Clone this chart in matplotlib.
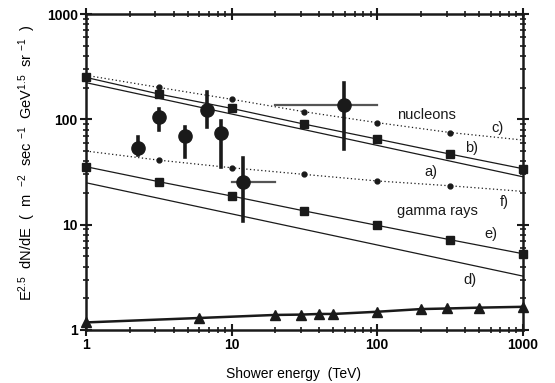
import matplotlib
matplotlib.use("Agg")
import matplotlib.pyplot as plt
import numpy as np

plt.rcParams['font.family'] = ['Liberation Sans', 'DejaVu Sans']
plt.rcParams['mathtext.default'] = 'regular'

# model curves on the common energy grid (TeV)
x_grid = [1, 3.16, 10, 31.6, 100, 316, 1000]
curve_b = [250, 174, 127, 90, 65, 46.8, 34]
curve_c = [262, 201, 155, 118, 93, 75, 63.6]
curve_e = [35.5, 25.6, 18.7, 13.5, 9.85, 7.2, 5.3]
curve_f = [50, 41, 34.7, 30, 26, 23.4, 20.7]
x_ends = [1, 1000]
curve_a = [223, 28.5]
curve_d = [25, 3.25]

# triangles (bottom curve)
tri_x = [1, 6, 20, 30, 40, 50, 100, 200, 300, 500, 1000]
tri_y = [1.18, 1.30, 1.39, 1.40, 1.42, 1.42, 1.49, 1.58, 1.60, 1.63, 1.66]

# measurements
meas_x = [2.27, 3.17, 4.75, 6.73, 8.4, 12, 59]
meas_y = [54, 106, 70, 124, 75, 25.6, 137]
meas_lo = [45.8, 80, 44, 84, 35.5, 10.9, 52]
meas_hi = [68, 125, 84, 183, 97, 42.6, 220]
meas_xlo = [None, None, None, None, None, 10, 20]
meas_xhi = [None, None, None, None, None, 20, 99]

labels = [("nucleons", 218, 110), ("c)", 675, 83), ("b)", 443, 53), ("a)", 233, 31.8),
          ("f)", 751, 16.5), ("gamma rays", 261, 13.5), ("e)", 602, 8.1), ("d)", 432, 3.0)]

fig = plt.figure(figsize=(5.55, 3.83), dpi=100)
ax = fig.add_axes([0.155, 0.1384, 0.787, 0.825])
ax.set_xscale('log')
ax.set_yscale('log')
ax.set_xlim(1, 1000)
ax.set_ylim(1, 1000)

lc = '#1a1a1a'
# solid lines
ax.plot(x_ends, curve_a, color=lc, lw=0.9)
ax.plot(x_ends, curve_d, color=lc, lw=0.9)
ax.plot(x_grid, curve_b, color=lc, lw=0.9, marker='s', ms=5.5, clip_on=False, zorder=4)
ax.plot(x_grid, curve_e, color=lc, lw=0.9, marker='s', ms=5.5, clip_on=False, zorder=4)
# dotted
ax.plot(x_grid, curve_c, color=lc, lw=0.9, ls=(0, (1, 2)))
ax.plot(x_grid[1:-1], curve_c[1:-1], color=lc, ls='none', marker='o', ms=3.5)
ax.plot(x_grid, curve_f, color=lc, lw=0.9, ls=(0, (1, 2)))
ax.plot(x_grid[1:-1], curve_f[1:-1], color=lc, ls='none', marker='o', ms=3.5)
# triangles
ax.plot(tri_x, tri_y, color=lc, lw=1.8, marker='^', ms=6.5, clip_on=False, zorder=4)

# measurements
for i in range(len(meas_x)):
    if meas_xlo[i] is not None:
        ax.plot([meas_xlo[i], meas_xhi[i]], [meas_y[i], meas_y[i]], color='#555555', lw=1.6, zorder=5)
    ax.plot([meas_x[i], meas_x[i]], [meas_lo[i], meas_hi[i]], color=lc, lw=2.6, zorder=6)
ax.plot(meas_x, meas_y, ls='none', marker='o', ms=9.5, color=lc, zorder=7)

for t, x, y in labels:
    ax.text(x, y, t, fontsize=10.5, ha='center', va='center', color=lc)

for s in ax.spines.values():
    s.set_linewidth(1.8)
    s.set_color(lc)

ax.set_xticks([1, 10, 100, 1000])
ax.set_xticklabels(['1', '10', '100', '1000'], fontweight='bold', fontsize=10)
ax.set_yticks([1, 10, 100, 1000])
ax.set_yticklabels(['1', '10', '100', '1000'], fontweight='bold', fontsize=10)
ax.tick_params(which='major', direction='inout', length=8, width=1.5, top=True, right=True, color=lc, pad=2)
ax.tick_params(which='minor', direction='inout', length=4, width=1.2, top=True, right=True, color=lc)
ax.tick_params(labeltop=False, labelright=False)

ax.set_xlabel('Shower energy  (TeV)', fontsize=10)
ax.xaxis.set_label_coords(0.476, -0.118)
ax.set_ylabel(r'E$^{2.5}$  dN/dE  (  m  $^{-2}$  sec $^{-1}$  GeV$^{1.5}$  sr $^{-1}$  )', fontsize=10.5)
ax.yaxis.set_label_coords(-0.11, 0.53)

fig.savefig('out.png', dpi=100)
